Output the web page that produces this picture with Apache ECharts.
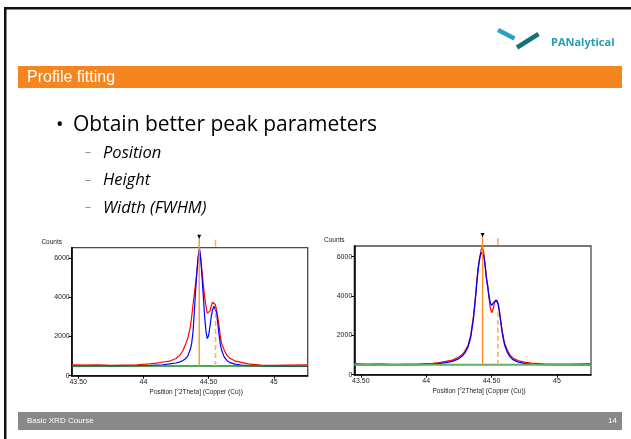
<!DOCTYPE html>
<html><head><meta charset="utf-8">
<script src="https://cdn.jsdelivr.net/npm/echarts@6/dist/echarts.min.js"></script>
<style>html,body{margin:0;padding:0;background:#fff}#c{width:631px;height:439px}</style>
</head><body><div id="c"></div>
<script>
// ---- data ----
const xPos = [43.45,43.55,43.65,43.75,43.85,43.95,44.05,44.10,44.15,44.20,44.25,44.28,44.30,44.32,44.34,44.36,44.37,44.38,44.39,44.40,44.41,44.42,44.43,44.44,44.45,44.46,44.47,44.48,44.49,44.50,44.51,44.52,44.53,44.54,44.55,44.56,44.57,44.58,44.59,44.60,44.62,44.64,44.66,44.70,44.75,44.80,44.90,45.00,45.10,45.26];
const observed1 = [560,540,555,530,545,560,600,640,700,740,880,1050,1250,1550,1900,2500,3000,3600,4150,4700,5300,6000,6450,6000,5300,4600,4000,3550,3200,3120,3300,3550,3750,3800,3650,3400,3000,2550,2000,1650,1300,1050,900,760,680,600,540,530,545,560];
const calculated1 = [500,500,505,500,505,510,520,540,560,600,650,710,760,850,1000,1350,1650,2200,3200,4300,5300,6100,6500,5900,5000,4000,3000,2250,1900,2050,2500,3000,3350,3550,3550,3250,2700,2100,1600,1300,950,780,680,590,540,510,495,485,478,472];
const observed2 = [560,540,555,530,545,555,580,620,680,740,900,1050,1250,1500,2000,2900,3500,4200,5000,5600,6000,6350,6500,6200,5600,4900,4500,3900,3400,3150,3300,3600,3800,3800,3600,3200,2700,2250,1900,1600,1250,1000,860,720,640,590,550,535,545,560];
const calculated2 = [500,500,505,500,505,515,540,570,610,680,820,980,1150,1420,1900,2800,3450,4150,4900,5500,5950,6200,6250,6050,5550,4950,4500,4000,3650,3520,3560,3700,3800,3780,3600,3200,2700,2200,1800,1500,1150,920,780,650,580,540,510,500,495,490];
const backgroundLevel = [490, 500];
const peakPositions1 = [44.428, 44.553];
const peakPositions2 = [44.431, 44.548];
const alpha2Height = [3400, 3300];
const xTickValues = [43.5, 44, 44.5, 45];
const xTickLabels = ['43.50', '44', '44.50', '45'];
const yTickValues = [0, 2000, 4000, 6000];
const yTickLabels = ['0', '2000', '4000', '6000'];
const xMin = 43.45, xMax = 45.26, yMax = 6540;
const xTitle = 'Position [°2Theta] (Copper (Cu))';
const yTitle = 'Counts';
const slideTitle = 'Profile fitting';
const bulletMain = 'Obtain better peak parameters';
const bulletSubs = ['Position', 'Height', 'Width (FWHM)'];
const footerText = 'Basic XRD Course';
const pageNumber = '14';
const logoText = 'PANalytical';

// ---- chart ----
const chart = echarts.init(document.getElementById('c'));
const tickFont = '"Liberation Sans", Arial, sans-serif';
function lookup(vals, labels, v) {
  for (let i = 0; i < vals.length; i++) if (Math.abs(vals[i] - v) < 1e-6) return labels[i];
  return '';
}
function makeX(g) {
  return {
    type: 'value', gridIndex: g, min: xMin, max: xMax,
    axisLine: { show: true, onZero: false, lineStyle: { color: '#000', width: 1.6 } },
    axisTick: { show: true, customValues: xTickValues, length: 3, lineStyle: { color: '#000', width: 1 } },
    axisLabel: { customValues: xTickValues, formatter: v => lookup(xTickValues, xTickLabels, v),
      fontSize: 7, color: '#222', margin: 3, fontFamily: tickFont },
    splitLine: { show: false },
    name: xTitle, nameLocation: 'middle', nameGap: 13,
    nameTextStyle: { fontSize: 6.5, color: '#222', fontFamily: tickFont, padding: [0, 0, 0, 13] }
  };
}
function makeY(g) {
  return {
    type: 'value', gridIndex: g, min: 0, max: yMax,
    axisLine: { show: true, onZero: false, lineStyle: { color: '#000', width: 1.6 } },
    axisTick: { show: true, customValues: yTickValues, length: 3, lineStyle: { color: '#000', width: 1 } },
    axisLabel: { customValues: yTickValues, formatter: v => lookup(yTickValues, yTickLabels, v),
      fontSize: 7, color: '#222', margin: 2, fontFamily: tickFont },
    splitLine: { show: false },
    name: yTitle, nameLocation: 'end', nameGap: 2,
    nameTextStyle: { fontSize: 6.5, color: '#222', fontFamily: tickFont, align: 'center', padding: [0, 40, 0, 0] }
  };
}
function peakRender(bg, a2h) {
  return function (params, api) {
    const cs = params.coordSys;
    const x = api.value(0);
    const p0 = api.coord([x, bg]);
    if (params.dataIndex === 0) {
      return { type: 'group', children: [
        { type: 'line', shape: { x1: p0[0], y1: p0[1], x2: p0[0], y2: cs.y - 11 }, style: { stroke: '#ff8c1e', lineWidth: 1.3 } },
        { type: 'polygon', shape: { points: [[p0[0] - 2, cs.y - 13], [p0[0] + 2, cs.y - 13], [p0[0], cs.y - 9]] }, style: { fill: '#000' } }
      ] };
    }
    const p1 = api.coord([x, a2h]);
    return { type: 'group', children: [
      { type: 'line', shape: { x1: p0[0], y1: p0[1], x2: p0[0], y2: p1[1] }, style: { stroke: '#ffae6b', lineWidth: 1.6, lineDash: [5, 3] } },
      { type: 'line', shape: { x1: p0[0], y1: cs.y - 8, x2: p0[0], y2: cs.y - 1 }, style: { stroke: '#ffae6b', lineWidth: 1.6 } }
    ] };
  };
}
function lineSeries(g, ys, color, width, z) {
  return { type: 'line', xAxisIndex: g, yAxisIndex: g, data: xPos.map((x, i) => [x, ys[i]]),
    showSymbol: false, symbol: 'none', lineStyle: { color: color, width: width }, z: z, animation: false };
}
function bgSeries(g, color, width) {
  return { type: 'line', xAxisIndex: g, yAxisIndex: g, data: [[xMin, backgroundLevel[g]], [xMax, backgroundLevel[g]]],
    showSymbol: false, symbol: 'none', lineStyle: { color: color, width: width }, z: 4, animation: false };
}
function peakSeries(g, pos) {
  return { type: 'custom', xAxisIndex: g, yAxisIndex: g, clip: false, z: 6, animation: false,
    renderItem: peakRender(backgroundLevel[g], alpha2Height[g]),
    encode: { x: 0, y: 1 }, data: pos.map((p, i) => [p, i === 0 ? yMax : alpha2Height[g]]) };
}

const graphic = [
  { type: 'rect', shape: { x: 4, y: 7, width: 627, height: 2.5 }, style: { fill: '#111' } },
  { type: 'rect', shape: { x: 4, y: 7, width: 2.5, height: 432 }, style: { fill: '#111' } },
  { type: 'line', shape: { x1: 498, y1: 30, x2: 514.5, y2: 38.5 }, style: { stroke: '#2b9fc6', lineWidth: 4.5 } },
  { type: 'line', shape: { x1: 517, y1: 47.5, x2: 538.5, y2: 34 }, style: { stroke: '#157470', lineWidth: 4.5 } },
  { type: 'text', x: 551, y: 42.5, style: { text: logoText, font: 'bold 11px "Open Sans", sans-serif', fill: '#2a9db3', verticalAlign: 'middle' } },
  { type: 'rect', shape: { x: 18, y: 66, width: 604, height: 22 }, style: { fill: '#f5861f' } },
  { type: 'text', x: 27, y: 77.5, style: { text: slideTitle, font: '16px "Liberation Sans", Arial, sans-serif', fill: '#fff', verticalAlign: 'middle' } },
  { type: 'text', x: 56, y: 125, style: { text: '•', font: '20px "Open Sans", sans-serif', fill: '#000', verticalAlign: 'middle' } },
  { type: 'text', x: 73, y: 125, style: { text: bulletMain, font: '21px "Open Sans", sans-serif', fill: '#000', verticalAlign: 'middle' } },
  { type: 'rect', shape: { x: 18, y: 412, width: 604, height: 18 }, style: { fill: '#87898b' } },
  { type: 'text', x: 27, y: 421, style: { text: footerText, font: '8px "Liberation Sans", Arial, sans-serif', fill: '#fff', verticalAlign: 'middle' } },
  { type: 'text', x: 617, y: 421, style: { text: pageNumber, font: '8px "Liberation Sans", Arial, sans-serif', fill: '#fff', align: 'right', verticalAlign: 'middle' } }
];
bulletSubs.forEach((t, i) => {
  const y = 153 + i * 27.5;
  graphic.push({ type: 'text', x: 85, y: y, style: { text: '–', font: '12px "Open Sans", sans-serif', fill: '#888', verticalAlign: 'middle' } });
  graphic.push({ type: 'text', x: 103, y: y, style: { text: t, font: 'italic 16.5px "Open Sans", sans-serif', fill: '#000', verticalAlign: 'middle' } });
});

chart.setOption({
  animation: false,
  backgroundColor: '#fff',
  graphic: graphic,
  grid: [
    { left: 71.7, right: 323.3, top: 247.7, bottom: 63.3, show: true, borderColor: '#4a4a4a', borderWidth: 1.3 },
    { left: 354.3, right: 40, top: 246, bottom: 64.3, show: true, borderColor: '#4a4a4a', borderWidth: 1.3 }
  ],
  xAxis: [makeX(0), makeX(1)],
  yAxis: [makeY(0), makeY(1)],
  series: [
    lineSeries(0, observed1, '#ff0000', 1.2, 2),
    lineSeries(0, calculated1, '#0000ff', 1.2, 3),
    bgSeries(0, '#138a13', 1.5),
    peakSeries(0, peakPositions1),
    bgSeries(1, '#5fb35f', 2),
    lineSeries(1, observed2, '#ff0000', 1.2, 2),
    lineSeries(1, calculated2, '#0000ff', 1.3, 3),
    peakSeries(1, peakPositions2)
  ]
});
</script>
</body></html>
